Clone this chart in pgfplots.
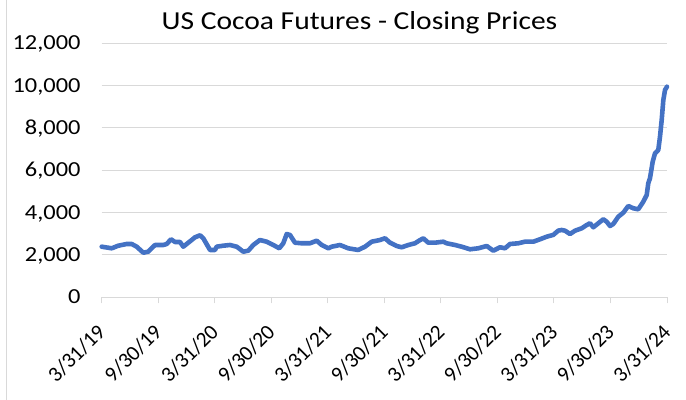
\documentclass[border=0pt]{standalone}
\usepackage{fontspec}
\setmainfont{Carlito}
\usepackage{graphicx}
\usepackage{pgfplots}
\pgfplotsset{compat=1.18}
\definecolor{excelblue}{HTML}{4472C4}
\definecolor{gridgrey}{HTML}{D9D9D9}
\begin{document}
\begin{tikzpicture}
\path[use as bounding box] (0,0) rectangle (686bp,400bp);
\draw[gridgrey, line width=1bp] (6bp,0) -- (6bp,400bp);
\begin{axis}[
  at={(101.7bp,102.7bp)}, anchor=south west,
  scale only axis, width=565.3bp, height=254bp,
  xmin=0, xmax=10, ymin=0, ymax=12000,
  clip=false,
  axis line style={draw=none},
  axis x line*=bottom,
  x axis line style={draw=gridgrey, line width=1bp},
  ytick={0,2000,...,12000},
  ymajorgrids, grid style={gridgrey, line width=1bp},
  xtick={0,...,10},
  xticklabels={3/31/19,9/30/19,3/31/20,9/30/20,3/31/21,9/30/21,3/31/22,9/30/22,3/31/23,9/30/23,3/31/24},
  xtick align=outside,
  major x tick style={draw=gridgrey, line width=1bp},
  major tick length=6bp,
  ytick style={draw=none},
  scaled y ticks=false,
  /pgf/number format/assume math mode=true,
  /pgf/number format/1000 sep={,},
  tick label style={font=\fontsize{21.5}{24}\selectfont, text=black},
  yticklabel={\scalebox{1.14}[1]{\axisdefaultticklabel}},
  yticklabel style={anchor=base east, inner sep=0pt, xshift=-21bp, yshift=-6.7bp},
  xticklabel style={inner sep=0pt, yshift=-25bp, rotate=45, anchor=east},
]
\addplot[excelblue, line width=4.6bp, line join=round, line cap=round] coordinates {
(0,2391) (0.177,2315) (0.294,2438) (0.442,2518) (0.531,2518) (0.619,2391)
(0.736,2107) (0.824,2155) (0.943,2471) (1.090,2471) (1.150,2518) (1.226,2741)
(1.297,2613) (1.385,2613) (1.443,2391) (1.592,2707) (1.650,2835) (1.739,2930)
(1.797,2788) (1.916,2235) (2.004,2235) (2.034,2391) (2.151,2438) (2.270,2471)
(2.388,2391) (2.505,2155) (2.593,2202) (2.682,2471) (2.800,2707) (2.919,2627)
(3.036,2471) (3.142,2315) (3.212,2552) (3.273,2991) (3.331,2944) (3.419,2580)
(3.538,2552) (3.684,2552) (3.803,2674) (3.892,2471) (4.009,2315) (4.069,2391)
(4.215,2471) (4.362,2315) (4.539,2235) (4.658,2391) (4.776,2627) (4.923,2707)
(5.012,2788) (5.100,2580) (5.219,2424) (5.307,2363) (5.424,2471) (5.542,2552)
(5.613,2674) (5.689,2788) (5.777,2580) (5.896,2580) (6.043,2627) (6.103,2552)
(6.250,2471) (6.368,2391) (6.515,2268) (6.662,2315) (6.811,2424) (6.927,2202)
(7.046,2363) (7.134,2315) (7.223,2518) (7.370,2552) (7.488,2627) (7.635,2627)
(7.753,2741) (7.872,2863) (7.989,2950) (8.077,3150) (8.137,3180) (8.196,3147)
(8.284,2991) (8.373,3147) (8.491,3260) (8.580,3416) (8.638,3497) (8.697,3308)
(8.785,3497) (8.873,3686) (8.933,3572) (8.992,3369) (9.050,3463) (9.138,3808)
(9.227,3997) (9.315,4314) (9.404,4205) (9.492,4158) (9.581,4517) (9.641,4834)
(9.669,5387) (9.699,5623) (9.747,6407) (9.788,6804) (9.846,6960) (9.876,7588)
(9.906,8377) (9.935,9322) (9.965,9795) (10.0,9951)
};
\end{axis}
\node[anchor=base, font=\fontsize{26}{30}\selectfont] at (359.5bp,370bp) {\scalebox{1.14}[1]{US Cocoa Futures - Closing Prices}};
\end{tikzpicture}
\end{document}
